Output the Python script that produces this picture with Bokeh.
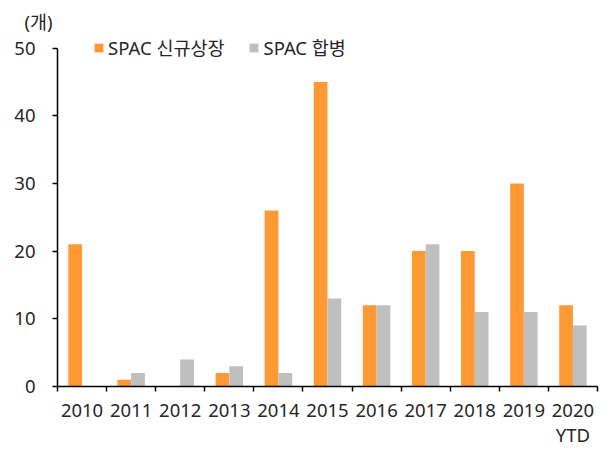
from bokeh.plotting import figure
from bokeh.models import (ColumnDataSource, Range1d, LinearAxis, FixedTicker,
                          Legend, LegendItem, Title)
from bokeh.embed import file_html
from bokeh.resources import INLINE
import numpy as np

years = ["2010", "2011", "2012", "2013", "2014", "2015", "2016", "2017", "2018", "2019", "2020"]
new_listings = [21, 1, 0, 2, 26, 45, 12, 20, 20, 30, 12]
mergers = [0, 2, 4, 3, 2, 13, 12, 21, 11, 11, 9]
y_ticks = [0, 10, 20, 30, 40, 50]
series_names = ["SPAC 신규상장", "SPAC 합병"]
unit_label = "(개)"
last_sub = "YTD"

FONT = "'Noto Sans', 'Noto Sans CJK KR', sans-serif"
FS = "18.5px"
ORANGE = "#FF9933"
GRAY = "#BFBFBF"
TXT = "#262626"

idx = np.arange(len(years))
bw = 0.28
src = ColumnDataSource(dict(x1=idx - bw / 2, x2=idx + bw / 2, a=new_listings, b=mergers))

p = figure(width=600, height=449, output_backend="svg", toolbar_location=None,
           x_range=Range1d(-0.5, len(years) - 0.5), y_range=Range1d(0, 52),
           x_axis_type=None, y_axis_type=None,
           min_border_left=57, min_border_right=3, min_border_top=34, min_border_bottom=63)
p.outline_line_color = None
p.background_fill_color = "white"

p.title = Title(text=unit_label, align="left", offset=-33, standoff=2,
                text_font=FONT, text_font_size=FS, text_font_style="normal", text_color=TXT)

r1 = p.vbar(x="x1", top="a", width=bw, source=src, fill_color=ORANGE, line_color=None)
r2 = p.vbar(x="x2", top="b", width=bw, source=src, fill_color=GRAY, line_color=None)

yax = LinearAxis(ticker=FixedTicker(ticks=y_ticks), bounds=(0, 50))
yax.axis_line_color = "black"
yax.axis_line_width = 1.5
yax.major_tick_line_color = "black"
yax.major_tick_line_width = 1.5
yax.major_tick_out = 5
yax.major_tick_in = 0
yax.minor_tick_line_color = None
yax.major_label_standoff = 17
yax.major_label_text_font = FONT
yax.major_label_text_font_size = FS
yax.major_label_text_color = TXT
p.add_layout(yax, "left")

bounds = list(np.arange(len(years) + 1) - 0.5)
xax = LinearAxis(ticker=FixedTicker(ticks=list(range(len(years))), minor_ticks=bounds))
xax.major_label_overrides = {i: y for i, y in enumerate(years)}
xax.axis_line_color = "black"
xax.axis_line_width = 1.5
xax.major_tick_line_color = None
xax.minor_tick_line_color = "black"
xax.minor_tick_line_width = 1.5
xax.minor_tick_out = 5
xax.minor_tick_in = 0
xax.major_label_standoff = 11
xax.major_label_text_font = FONT
xax.major_label_text_font_size = FS
xax.major_label_text_color = TXT
p.add_layout(xax, "below")

last = len(years) - 1
xax2 = LinearAxis(ticker=FixedTicker(ticks=[last]))
xax2.major_label_overrides = {last: last_sub}
xax2.axis_line_color = None
xax2.major_tick_line_color = None
xax2.minor_tick_line_color = None
xax2.major_tick_out = 0
xax2.major_tick_in = 0
xax2.minor_tick_out = 0
xax2.major_label_standoff = 2
xax2.major_label_text_font = FONT
xax2.major_label_text_font_size = FS
xax2.major_label_text_color = TXT
p.add_layout(xax2, "below")

legend = Legend(items=[LegendItem(label=series_names[0], renderers=[r1]),
                       LegendItem(label=series_names[1], renderers=[r2])],
                orientation="horizontal", location=(36, 326),
                background_fill_alpha=0, border_line_color=None,
                glyph_width=11, glyph_height=11, label_standoff=4, spacing=24,
                label_height=24, padding=0, margin=0, label_text_font=FONT,
                label_text_font_size=FS, label_text_color=TXT)
p.add_layout(legend, "center")

open("out.html", "w").write(file_html(p, INLINE))
